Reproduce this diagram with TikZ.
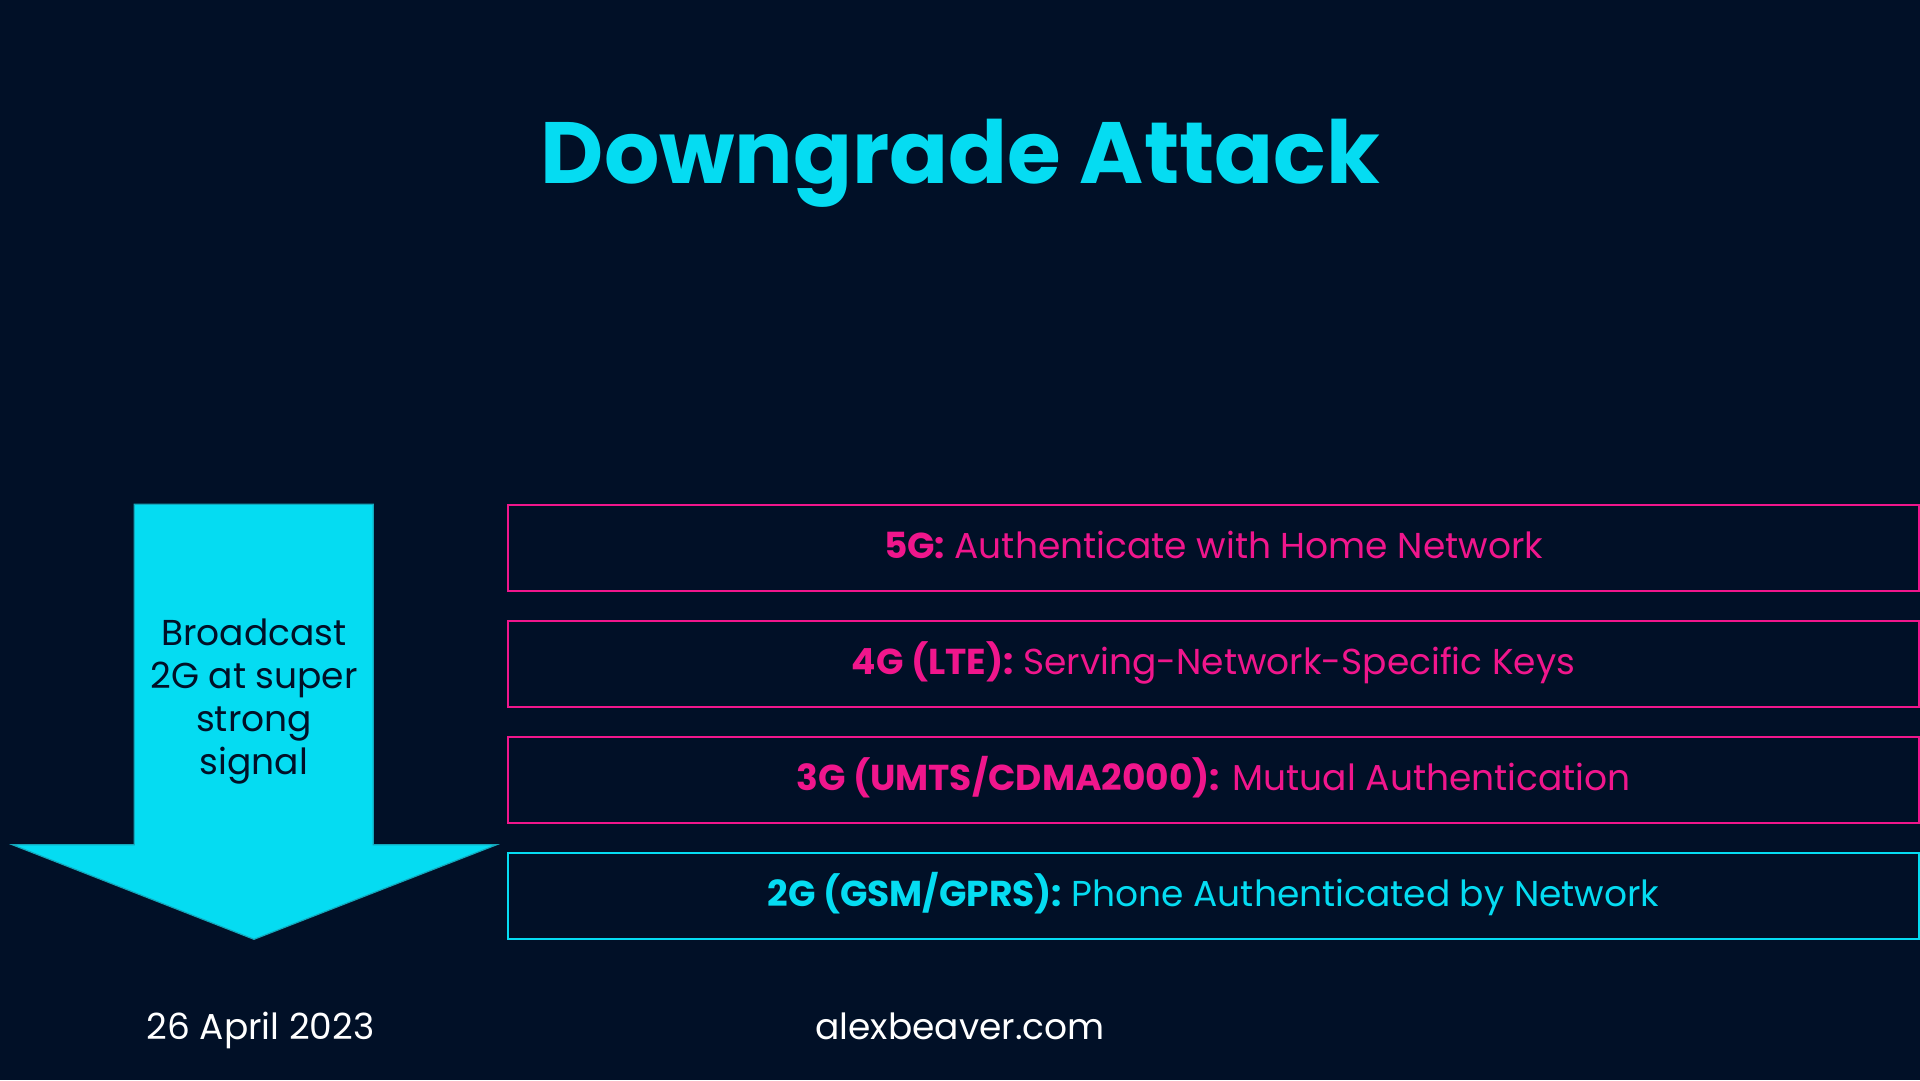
\documentclass[tikz,border=0pt]{standalone}
\usepackage{fontspec}
\setmainfont{Poppins}
\definecolor{bg}{HTML}{011027}
\definecolor{cy}{HTML}{05DCF2}
\definecolor{cyd}{HTML}{14A8BC}
\definecolor{pk}{HTML}{F0168C}
\definecolor{navy}{HTML}{011027}
\tikzset{
  tierbox/.style={draw=#1, line width=2pt, minimum width=1411pt, minimum height=86pt, inner sep=0pt},
  tiertext/.style={text=#1, anchor=base, inner sep=0pt, font=\fontsize{36}{43}\selectfont},
  foot/.style={text=white, anchor=base, inner sep=0pt, font=\fontsize{36}{43}\selectfont}
}
\begin{document}
\begin{tikzpicture}[x=1pt,y=-1pt]
\fill[bg] (0,0) rectangle (1920,1080);
\useasboundingbox (0,0) rectangle (1920,1080);
% title
\node[anchor=base, inner sep=0pt, text=cy, font=\fontsize{87}{100}\selectfont\bfseries] (title) at (960.5,183.7) {Downgrade Attack};
% arrow
\draw[fill=cy, draw=cyd, line width=1.2pt, line join=miter]
  (134.3,504.3) -- (373.3,504.3) -- (373.3,844.7) -- (496.7,844.7) -- (254,939.3) -- (12.3,844.7) -- (134.3,844.7) -- cycle;
\node[anchor=center, align=center, inner sep=0pt, text=navy, font=\fontsize{36}{43}\selectfont] (arrtext) at (254,702)
  {Broadcast\\2G at super\\strong\\signal};
% tier boxes
\node[tierbox=pk] (b5) at (1213.5,547.5) {};
\node[tierbox=pk] (b4) at (1213.5,664.4) {};
\node[tierbox=pk] (b3) at (1213.5,780.2) {};
\node[tierbox=cy] (b2) at (1213.5,896.4) {};
\node[tiertext=pk] (t5) at ([yshift=-10.5pt]b5.center) {\textbf{5G:} Authenticate with Home Network};
\node[tiertext=pk] (t4) at ([yshift=-10.5pt]b4.center) {\textbf{4G (LTE):} Serving-Network-Specific Keys};
\node[tiertext=pk] (t3) at ([yshift=-10.5pt]b3.center) {\textbf{3G (UMTS/CDMA2000):} Mutual Authentication};
\node[tiertext=cy] (t2) at ([yshift=-10.5pt]b2.center) {\textbf{2G (GSM/GPRS):} Phone Authenticated by Network};
% footer
\node[foot] (date) at (260.5,1039) {26 April 2023};
\node[foot] (url) at (960,1039) {alexbeaver.com};
\end{tikzpicture}
\end{document}
